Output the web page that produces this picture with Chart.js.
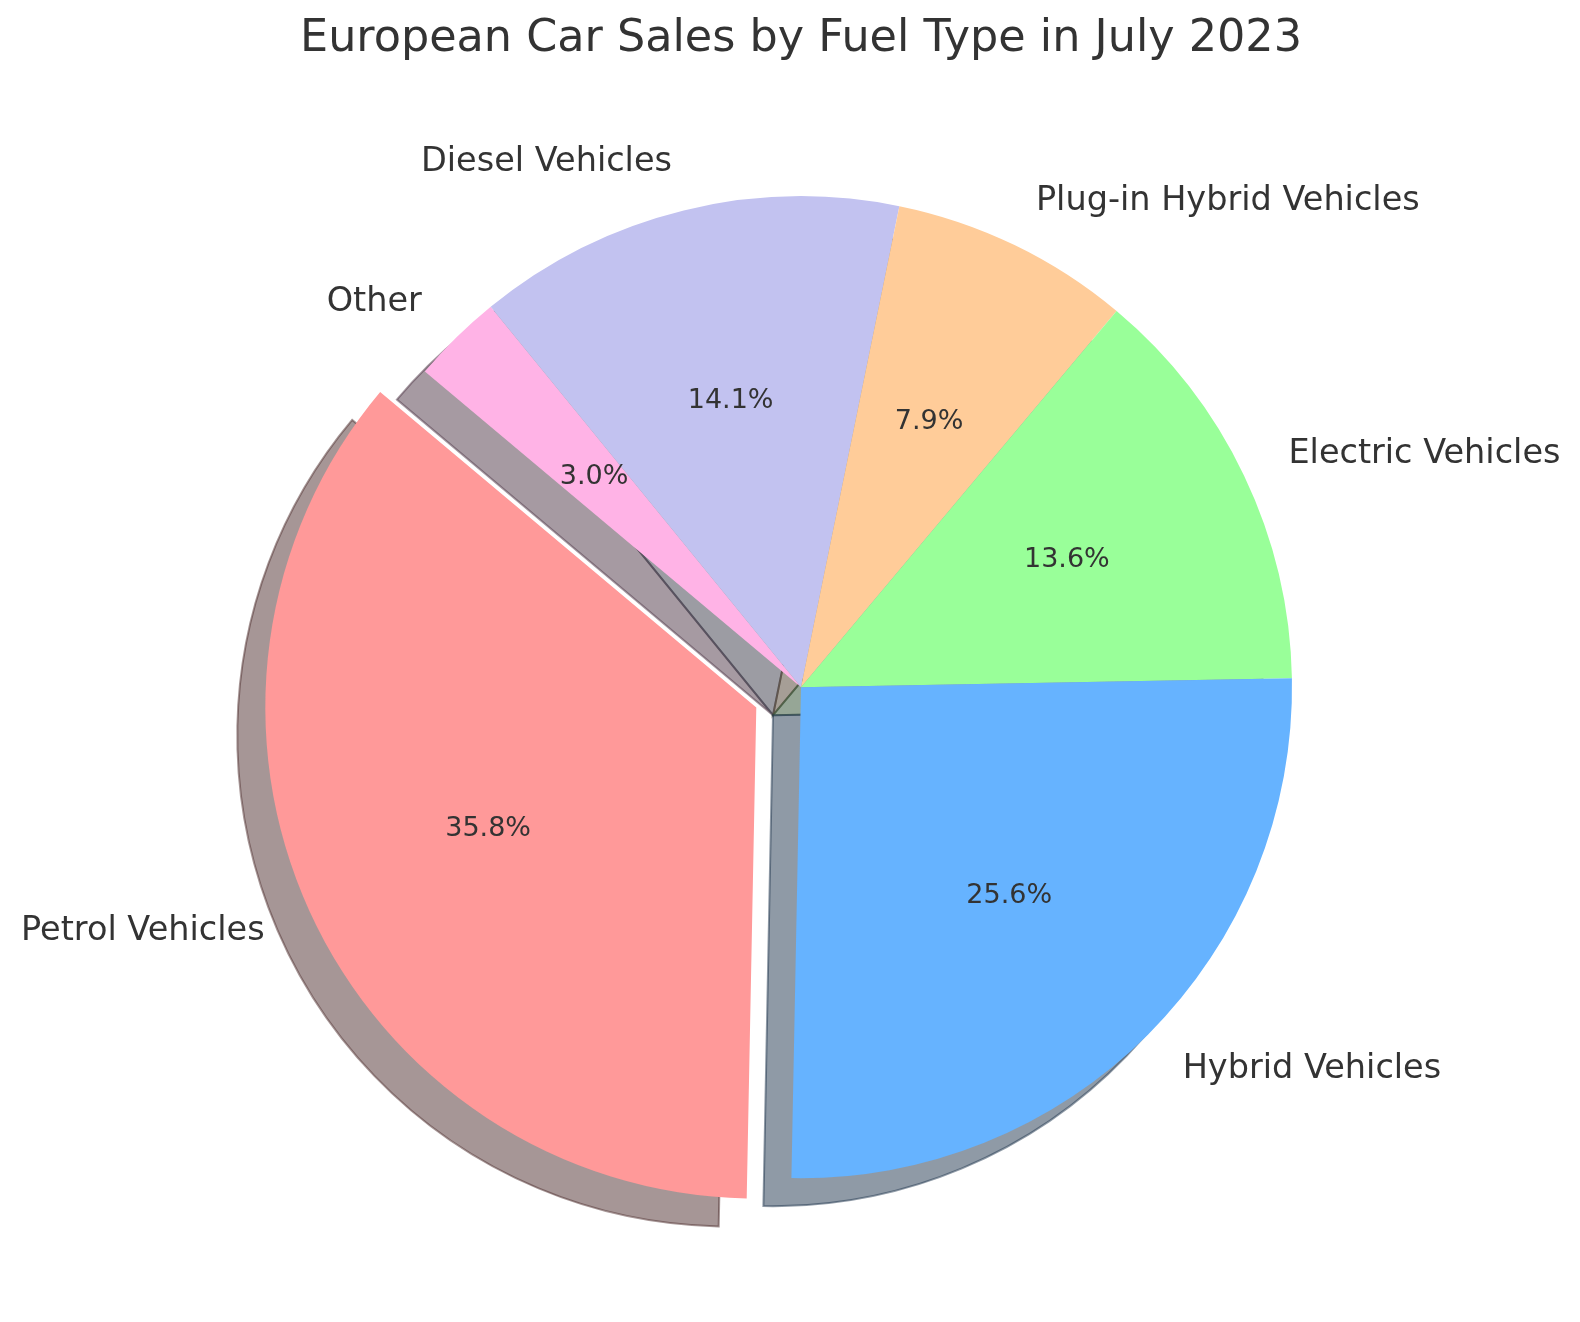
<!DOCTYPE html>
<html>
<head>
<meta charset="utf-8">
<script src="https://cdn.jsdelivr.net/npm/chart.js@4.4.0/dist/chart.umd.min.js"></script>
<style>
  html, body { margin: 0; padding: 0; background: #fff; }
  #wrap { width: 1580px; height: 1322px; position: relative; }
</style>
</head>
<body>
<div id="wrap"><canvas id="myChart"></canvas></div>
<script>
var fuelTypes = ['Petrol Vehicles', 'Hybrid Vehicles', 'Electric Vehicles', 'Plug-in Hybrid Vehicles', 'Diesel Vehicles', 'Other'];
var shares = [35.8, 25.6, 13.6, 7.9, 14.1, 3.0];
var sliceColors = ['#ff9999', '#66b3ff', '#99ff99', '#ffcc99', '#c2c2f0', '#ffb3e6'];
var explode = [0.1, 0, 0, 0, 0, 0];

// the original goes counter-clockwise from 140deg, chart.js goes clockwise,
// so hand the slices over in reverse order
var labelsCw = fuelTypes.slice().reverse();
var sharesCw = shares.slice().reverse();
var colorsCw = sliceColors.slice().reverse();
var explodeCw = explode.slice().reverse();

var RADIUS = 491;
var SHADOW_DX = -28, SHADOW_DY = 28;
var FONT = "'DejaVu Sans', sans-serif";
var TEXT_COLOR = '#333333';

function shadowColor(hex) {
  var n = parseInt(hex.slice(1), 16);
  var r = (n >> 16) & 255, g = (n >> 8) & 255, b = n & 255;
  return 'rgba(' + Math.round(r * 0.3) + ',' + Math.round(g * 0.3) + ',' + Math.round(b * 0.3) + ',0.5)';
}

var pieExtras = {
  id: 'pieExtras',
  afterDatasetUpdate: function(chart, args) {
    var meta = chart.getDatasetMeta(args.index);
    meta.data.forEach(function(arc, i) {
      var k = explodeCw[i];
      if (!k) return;
      var mid = (arc.startAngle + arc.endAngle) / 2;
      arc.x += Math.cos(mid) * k * arc.outerRadius;
      arc.y += Math.sin(mid) * k * arc.outerRadius;
    });
  },
  beforeDatasetsDraw: function(chart) {
    var ctx = chart.ctx;
    var meta = chart.getDatasetMeta(0);
    ctx.save();
    meta.data.forEach(function(arc, i) {
      var c = shadowColor(colorsCw[i]);
      var sx = arc.x + SHADOW_DX, sy = arc.y + SHADOW_DY;
      ctx.beginPath();
      ctx.moveTo(sx, sy);
      ctx.arc(sx, sy, arc.outerRadius, arc.startAngle, arc.endAngle);
      ctx.closePath();
      ctx.fillStyle = c;
      ctx.fill();
      ctx.strokeStyle = c;
      ctx.lineWidth = 2;
      ctx.stroke();
    });
    ctx.restore();
  },
  afterDatasetsDraw: function(chart) {
    var ctx = chart.ctx;
    var meta = chart.getDatasetMeta(0);
    var total = sharesCw.reduce(function(a, b) { return a + b; }, 0);
    ctx.save();
    ctx.fillStyle = TEXT_COLOR;
    ctx.textBaseline = 'middle';
    meta.data.forEach(function(arc, i) {
      var mid = (arc.startAngle + arc.endAngle) / 2;
      var cs = Math.cos(mid), sn = Math.sin(mid);
      var r = arc.outerRadius;
      // category label outside
      ctx.font = '33.5px ' + FONT;
      ctx.textAlign = cs < 0 ? 'right' : 'left';
      ctx.fillText(labelsCw[i], arc.x + 1.1 * r * cs, arc.y + 1.1 * r * sn);
      // percentage inside
      ctx.font = '27px ' + FONT;
      ctx.textAlign = 'center';
      var pct = (sharesCw[i] / total * 100).toFixed(1) + '%';
      ctx.fillText(pct, arc.x + 0.6 * r * cs, arc.y + 0.6 * r * sn);
    });
    ctx.restore();
  }
};

var ctx = document.getElementById('myChart').getContext('2d');
var myChart = new Chart(ctx, {
  type: 'pie',
  data: {
    labels: labelsCw,
    datasets: [{
      data: sharesCw,
      backgroundColor: colorsCw,
      borderWidth: 0
    }]
  },
  options: {
    responsive: true,
    maintainAspectRatio: false,
    animation: false,
    events: [],
    rotation: -50,
    radius: RADIUS,
    layout: {
      padding: { left: 22, right: 0, top: 0, bottom: 24 }
    },
    plugins: {
      legend: { display: false },
      tooltip: { enabled: false },
      title: {
        display: true,
        text: 'European Car Sales by Fuel Type in July 2023',
        color: TEXT_COLOR,
        font: { family: FONT, size: 44.5, weight: 'normal' },
        padding: { top: 13, bottom: 10 }
      }
    }
  },
  plugins: [pieExtras]
});
</script>
</body>
</html>
